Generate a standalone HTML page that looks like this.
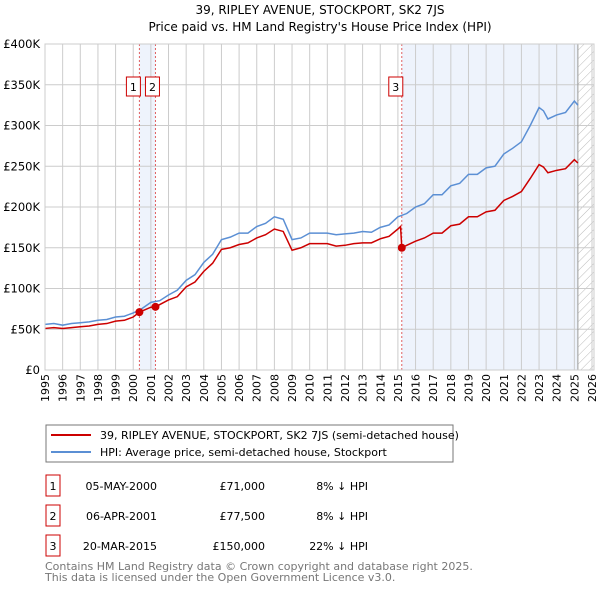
<!DOCTYPE html>
<html><head><meta charset="utf-8"><style>
body{margin:0;background:#fff;font-family:"Liberation Sans","DejaVu Sans",sans-serif;}
svg text{font-family:"DejaVu Sans","Liberation Sans",sans-serif;}
</style></head><body>
<svg id="c" width="600" height="590" xmlns="http://www.w3.org/2000/svg">
<text x="320" y="14" text-anchor="middle" font-size="12">39, RIPLEY AVENUE, STOCKPORT, SK2 7JS</text>
<text x="320" y="31" text-anchor="middle" font-size="12">Price paid vs. HM Land Registry's House Price Index (HPI)</text>
<defs><pattern id="hatch" width="6" height="6" patternUnits="userSpaceOnUse" patternTransform="rotate(45)"><line x1="0" y1="0" x2="0" y2="6" stroke="#bbb" stroke-width="1"/></pattern></defs>
<g id="plot"></g>
<rect x="46" y="425" width="407" height="37" fill="#fff" stroke="#777"/>
<line x1="51" y1="435" x2="91" y2="435" stroke="#cc0000" stroke-width="2"/>
<text x="100" y="439" font-size="11">39, RIPLEY AVENUE, STOCKPORT, SK2 7JS (semi-detached house)</text>
<line x1="51" y1="452" x2="91" y2="452" stroke="#5b8fd4" stroke-width="2"/>
<text x="100" y="456" font-size="11">HPI: Average price, semi-detached house, Stockport</text>
<g font-size="11">
<rect x="46" y="475" width="14" height="21" fill="#fff" stroke="#cc0000"/><text x="53" y="490" text-anchor="middle">1</text>
<text x="157" y="490" text-anchor="end">05-MAY-2000</text><text x="265" y="490" text-anchor="end">£71,000</text><text x="368" y="490" text-anchor="end">8% ↓ HPI</text>
<rect x="46" y="505" width="14" height="21" fill="#fff" stroke="#cc0000"/><text x="53" y="520" text-anchor="middle">2</text>
<text x="157" y="520" text-anchor="end">06-APR-2001</text><text x="265" y="520" text-anchor="end">£77,500</text><text x="368" y="520" text-anchor="end">8% ↓ HPI</text>
<rect x="46" y="535" width="14" height="21" fill="#fff" stroke="#cc0000"/><text x="53" y="550" text-anchor="middle">3</text>
<text x="157" y="550" text-anchor="end">20-MAR-2015</text><text x="265" y="550" text-anchor="end">£150,000</text><text x="368" y="550" text-anchor="end">22% ↓ HPI</text>
</g>
<text x="45" y="570" font-size="11" fill="#777">Contains HM Land Registry data © Crown copyright and database right 2025.</text>
<text x="45" y="581" font-size="11" fill="#777">This data is licensed under the Open Government Licence v3.0.</text>
</svg>
<script>
const hpiYears=[1995,1995.5,1996,1996.5,1997,1997.5,1998,1998.5,1999,1999.5,2000,2000.4,2001,2001.5,2002,2002.5,2003,2003.5,2004,2004.5,2005,2005.5,2006,2006.5,2007,2007.5,2008,2008.5,2009,2009.5,2010,2010.5,2011,2011.5,2012,2012.5,2013,2013.5,2014,2014.5,2015,2015.5,2016,2016.5,2017,2017.5,2018,2018.5,2019,2019.5,2020,2020.5,2021,2021.5,2022,2022.5,2023,2023.25,2023.5,2024,2024.5,2025,2025.2];
const hpiValues=[56,57,55,57,58,59,61,62,65,66,70,74,83,85,92,98,110,117,132,142,160,163,168,168,176,180,188,185,160,162,168,168,168,166,167,168,170,169,175,178,188,192,200,204,215,215,226,229,240,240,248,250,265,272,280,300,322,318,308,313,316,330,325];
const propYears=[1995,1995.5,1996,1996.5,1997,1997.5,1998,1998.5,1999,1999.5,2000,2000.35,2001,2001.26,2002,2002.5,2003,2003.5,2004,2004.5,2005,2005.5,2006,2006.5,2007,2007.5,2008,2008.5,2009,2009.5,2010,2010.5,2011,2011.5,2012,2012.5,2013,2013.5,2014,2014.5,2015,2015.15,2015.22,2015.5,2016,2016.5,2017,2017.5,2018,2018.5,2019,2019.5,2020,2020.5,2021,2021.5,2022,2022.5,2023,2023.25,2023.5,2024,2024.5,2025,2025.2];
const propValues=[51,52,51,52,53,54,56,57,60,61,65,71,77,77.5,86,90,102,108,121,131,148,150,154,156,162,166,173,170,147,150,155,155,155,152,153,155,156,156,161,164,173,176,150,153,158,162,168,168,177,179,188,188,194,196,208,213,219,235,252,249,242,245,247,258,254];
const saleYears=[2000.35,2001.26,2015.22];
const saleValues=[71,77.5,150];
const saleLabels=["1","2","3"];
const yTicks=[0,50,100,150,200,250,300,350,400];
const yTickLabels=["£0","£50K","£100K","£150K","£200K","£250K","£300K","£350K","£400K"];
const xStart=1995,xEnd=2026;
const L=45,R=592,T=44,B=370;
const xs=y=>L+(y-xStart)/(xEnd-xStart)*(R-L);
const ys=v=>B-v/400*(B-T);
const NS="http://www.w3.org/2000/svg";
const g=document.getElementById('plot');
function mk(tag,attrs){const e=document.createElementNS(NS,tag);for(const k in attrs)e.setAttribute(k,attrs[k]);g.appendChild(e);return e;}
let e;
const hatchStart=2025.2;
e=mk('rect',{x:L,y:T,width:R-L+2,height:B-T,fill:'#fff'});


e=mk('rect',{x:xs(saleYears[0]),y:T,width:xs(saleYears[1])-xs(saleYears[0]),height:B-T,fill:'#eef3fc'});


e=mk('rect',{x:xs(saleYears[2]),y:T,width:xs(hatchStart)-xs(saleYears[2]),height:B-T,fill:'#eef3fc'});


e=mk('rect',{x:xs(hatchStart),y:T,width:R+2-xs(hatchStart),height:B-T,fill:'url(#hatch)'});


for(let yr=xStart;yr<=xEnd;yr++){
 e=mk('line',{x1:xs(yr),x2:xs(yr),y1:T,y2:B,stroke:'#ccc','stroke-width':1});
 
 
 e=mk('text',{x:0,y:0,'font-size':11,'text-anchor':'end',transform:`translate(${xs(yr)+4},374) rotate(-90)`});
 e.textContent=yr;
 
 
}
yTicks.forEach((v,i)=>{
 e=mk('line',{x1:L,x2:R+2,y1:ys(v),y2:ys(v),stroke:'#ccc','stroke-width':1});
 
 
 e=mk('text',{x:40,y:ys(v)+4,'font-size':11.5,'text-anchor':'end'});
 e.textContent=yTickLabels[i];
 
 
});
e=mk('line',{x1:xs(hatchStart),x2:xs(hatchStart),y1:T,y2:B,stroke:'#999','stroke-width':1});


saleYears.forEach((yr,i)=>{
 e=mk('line',{x1:xs(yr),x2:xs(yr),y1:T,y2:B,stroke:'#e06060','stroke-width':1,'stroke-dasharray':'2,2'});
 
 
});
e=mk('polyline',{points:hpiYears.map((y,i)=>xs(y)+','+ys(hpiValues[i])).join(' '),fill:'none',stroke:'#5b8fd4','stroke-width':1.5});


e=mk('polyline',{points:propYears.map((y,i)=>xs(y)+','+ys(propValues[i])).join(' '),fill:'none',stroke:'#cc0000','stroke-width':1.5});


saleYears.forEach((yr,i)=>{
 e=mk('circle',{cx:xs(yr),cy:ys(saleValues[i]),r:4,fill:'#cc0000'});
 
 
 const bx=xs(yr)+(i===0?-6:i===1?-3:-6);
 e=mk('rect',{x:bx-7,y:77,width:14,height:19,fill:'#fff',stroke:'#cc0000'});
 
 
 e=mk('text',{x:bx,y:91,'font-size':11,'text-anchor':'middle'});
 e.textContent=saleLabels[i];
 
 
});
e=mk('rect',{x:L,y:T,width:R+2-L,height:B-T,fill:'none',stroke:'#ccc'});


</script>
</body></html>
